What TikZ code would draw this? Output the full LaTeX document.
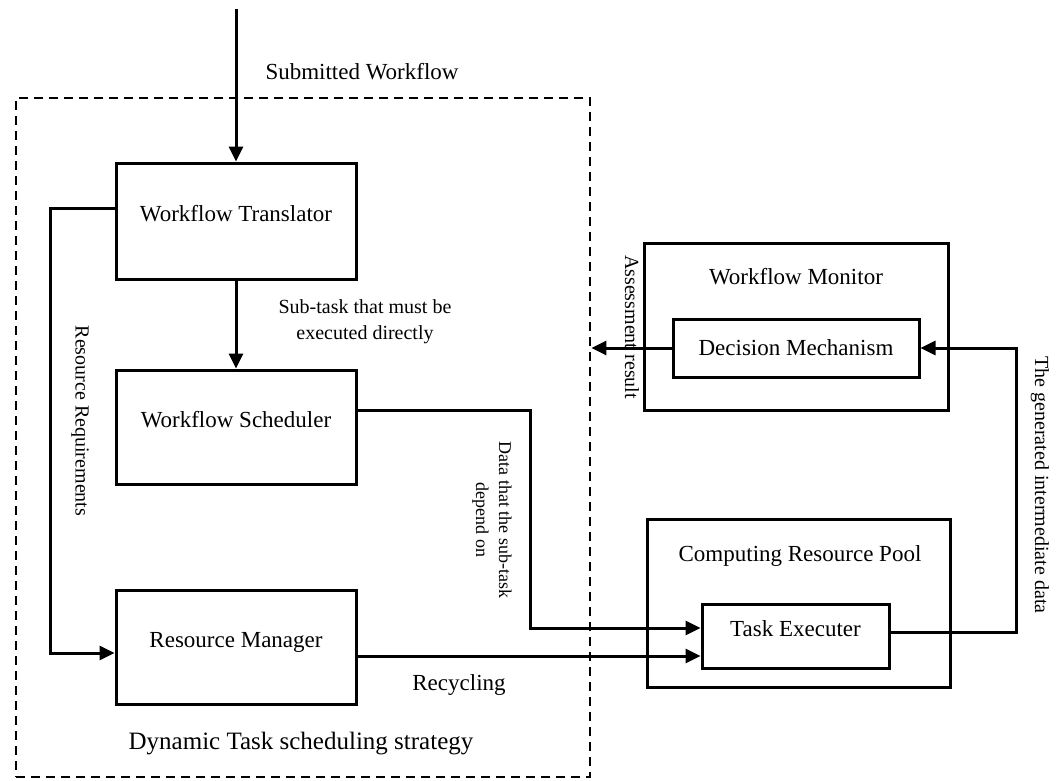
\documentclass[tikz,border=0pt]{standalone}
\usepackage{fontspec}
\setmainfont{Liberation Serif}
\usetikzlibrary{arrows.meta,calc}
\begin{document}
\begin{tikzpicture}[x=1pt,y=-1pt,
  every node/.style={font=\fontsize{23}{27}\selectfont},
  frame/.style={draw, line width=3pt, inner sep=0pt},
  toptext/.style={text height=15pt, text depth=15pt},
  conn/.style={line width=3pt},
  arr/.style={conn, -{Triangle[length=15pt,width=14pt]}},
  small/.style={font=\fontsize{20}{26}\selectfont},
  tiny/.style={font=\fontsize{18}{23}\selectfont},
  dashbox/.style={draw, line width=2.8pt, dash pattern=on 9pt off 6pt, inner sep=0pt}
]
\useasboundingbox (0,0) rectangle (1064,780);

\node[dashbox, minimum width=574pt, minimum height=679pt] (dyn) at (303,437.5) {};

\node[frame, toptext, minimum width=240pt, minimum height=116pt] (trans) at (236,221) {Workflow Translator};
\node[frame, toptext, minimum width=240pt, minimum height=114pt] (sched) at (236,427) {Workflow Scheduler};
\node[frame, toptext, minimum width=240pt, minimum height=114pt] (rm) at (236,647) {Resource Manager};

\node[frame, minimum width=304pt, minimum height=167pt] (mon) at (796,326.5) {};
\node (monT) at (796,277) {Workflow Monitor};
\node[frame, minimum width=246pt, minimum height=58pt] (dec) at (796,348) {Decision Mechanism};

\node[frame, minimum width=303pt, minimum height=168pt] (pool) at (798.5,603) {};
\node (poolT) at (800,556) {Computing Resource Pool};
\node[frame, toptext, minimum width=187pt, minimum height=64pt] (task) at (795.5,636) {Task Executer};

\node (subm) at (362,72) {Submitted Workflow};
\node[small, align=center] (subt) at (365,322) {Sub-task that must be\\executed directly};
\node[small, rotate=-90] (resreq) at (80,421) {Resource Requirements};
\node[tiny, rotate=-90, align=center] (datal) at (492,520) {Data that the sub-task\\depend on};
\node (recy) at (459,685) {Recycling};
\node[font=\fontsize{25}{30}\selectfont] (dynT) at (301,744) {Dynamic Task scheduling strategy};
\node[small, rotate=-90] (assess) at (632,327) {Assessment result};
\node[small, rotate=-90] (gen) at (1040,485) {The generated intermediate data};

\coordinate (start) at (236,9);
\draw[arr] (start) -- (trans.north);
\draw[arr] (trans.south) -- (sched.north);

\coordinate (rrA) at ([yshift=13pt]trans.west);
\coordinate (rrB) at ([yshift=-6pt]rm.west);
\draw[arr] (rrA) -- ++(-64,0) |- (rrB);

\coordinate (sA) at ([yshift=17pt]sched.east);
\coordinate (sB) at ([yshift=8pt]task.west);
\coordinate (sC) at (530,500);
\draw[arr] (sA) -| (sC |- sB) -- (sB);

\coordinate (rmo) at ([yshift=-9pt]rm.east);
\draw[arr] (rmo) -- (rmo -| task.west);

\coordinate (tA) at ([yshift=4pt]task.east);
\coordinate (tC) at (1016,500);
\draw[arr] (tA) -| (tC |- dec.east) -- (dec.east);

\draw[arr] (dec.west) -- (dec.west -| dyn.east);
\end{tikzpicture}
\end{document}
